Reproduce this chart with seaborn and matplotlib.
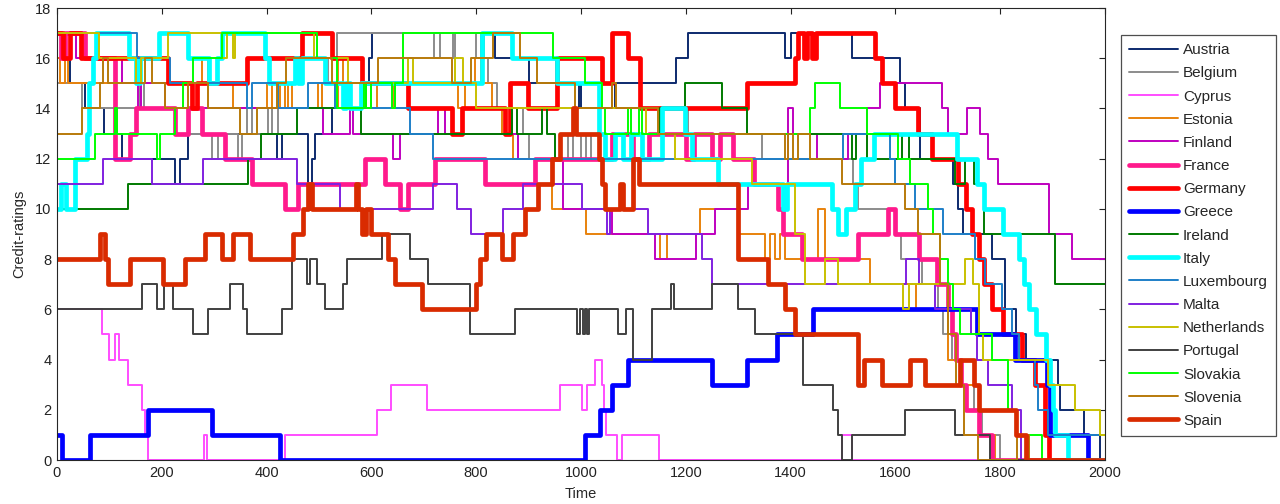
import matplotlib
matplotlib.use("Agg")
import matplotlib.pyplot as plt
import pandas as pd
import seaborn as sns

# ---- data: (time, rating) breakpoints of each step series ----
AUSTRIA = [(0,16),(25,15),(53,14),(90,13),(124,12),(225,11),(235,12),(250,13),(420,12),(430,13),(479,11),(486,12),(492,13),(525,14),(590,15),(595,16),(601,17),(836,16),(900,15),(996,14),(1000,15),(1060,14),(1065,15),(1181,16),(1204,17),(1390,16),(1400,17),(1517,16),(1609,15),(1618,14),(1647,12),(1710,11),(1720,10),(1729,9),(1784,8),(1809,6),(1830,5),(1850,4),(1910,3),(1915,2),(1960,1),(1990,0)]
BELGIUM = [(0,15),(48,14),(158,15),(167,14),(250,13),(296,12),(307,13),(345,12),(353,13),(362,14),(372,13),(403,14),(410,13),(422,14),(506,15),(517,16),(535,17),(720,16),(730,17),(755,16),(760,17),(800,16),(810,17),(815,16),(822,15),(840,14),(890,13),(900,12),(975,13),(985,12),(1000,13),(1010,12),(1020,13),(1200,14),(1205,13),(1345,12),(1519,11),(1529,10),(1600,9),(1610,8),(1650,7),(1681,6),(1690,5),(1708,4),(1725,3),(1750,2),(1765,1),(1800,0)]
CYPRUS = [(0,6),(85,5),(100,4),(110,5),(118,4),(136,3),(163,2),(168,1),(173,0),(281,1),(287,0),(435,1),(611,2),(638,3),(706,2),(960,3),(1002,2),(1012,3),(1027,4),(1040,3),(1044,2),(1048,1),(1068,0),(1078,1),(1148,0),(1498,1),(1517,0)]
ESTONIA = [(0,16),(5,15),(15,16),(22,15),(277,16),(288,15),(335,14),(400,15),(410,14),(425,15),(435,14),(440,15),(448,14),(498,15),(505,14),(537,16),(546,15),(600,14),(610,15),(641,14),(645,15),(765,14),(778,15),(798,16),(810,15),(830,14),(850,13),(870,12),(945,10),(1010,9),(1150,8),(1165,9),(1227,10),(1300,9),(1351,8),(1360,9),(1370,8),(1380,9),(1390,8),(1452,10),(1466,8),(1552,7),(1640,6),(1700,4),(1725,3),(1760,1),(1790,0)]
FINLAND = [(0,17),(37,16),(125,15),(155,14),(160,15),(206,14),(508,13),(559,14),(565,13),(641,12),(655,13),(727,14),(740,13),(880,12),(965,10),(1060,9),(1141,8),(1220,9),(1256,10),(1318,11),(1395,14),(1405,13),(1450,12),(1510,13),(1546,14),(1570,15),(1689,14),(1700,13),(1737,14),(1761,13),(1777,12),(1796,11),(1893,9),(1937,8)]
FRANCE = [(0,17),(8,16),(15,17),(53,16),(111,12),(139,13),(150,14),(225,13),(250,14),(276,13),(320,12),(372,11),(435,10),(460,11),(588,12),(626,11),(655,10),(670,11),(721,12),(817,11),(912,12),(1060,13),(1100,12),(1130,13),(1200,12),(1215,13),(1250,12),(1265,13),(1290,12),(1330,11),(1376,10),(1385,9),(1421,8),(1529,9),(1586,10),(1599,9),(1645,8),(1680,7),(1700,6),(1708,5),(1715,4),(1725,3),(1735,2),(1760,1),(1785,0)]
GERMANY = [(0,17),(12,16),(25,17),(45,16),(212,15),(258,14),(268,15),(362,16),(467,17),(525,16),(582,15),(670,14),(753,13),(773,14),(855,13),(865,15),(899,14),(954,16),(1040,15),(1059,17),(1090,16),(1112,14),(1317,15),(1408,16),(1415,17),(1425,16),(1432,17),(1440,16),(1448,17),(1561,16),(1575,15),(1599,14),(1643,13),(1670,12),(1720,11),(1735,10),(1746,9),(1760,8),(1770,7),(1784,6),(1805,5),(1841,4),(1866,3),(1885,1),(1893,0)]
GREECE = [(0,1),(10,0),(63,1),(174,2),(296,1),(426,0),(1008,1),(1036,2),(1059,3),(1090,4),(1250,3),(1317,4),(1374,5),(1443,6),(1756,5),(1828,4),(1889,3),(1895,1),(1968,0)]
IRELAND = [(0,10),(135,11),(365,12),(390,13),(458,14),(580,13),(868,14),(877,13),(925,14),(935,13),(950,12),(960,13),(1151,14),(1198,15),(1269,14),(1317,13),(1517,12),(1525,13),(1546,12),(1613,13),(1625,12),(1714,11),(1733,12),(1750,11),(1770,9),(1905,7)]
ITALY = [(0,10),(8,11),(18,10),(34,12),(58,13),(62,15),(68,16),(75,17),(138,16),(150,15),(158,16),(195,17),(250,16),(290,15),(305,16),(314,17),(397,16),(405,15),(454,16),(460,15),(468,16),(511,15),(545,14),(552,15),(560,14),(580,15),(812,17),(868,16),(954,15),(1035,13),(1045,12),(1065,13),(1080,12),(1095,13),(1116,12),(1155,14),(1198,13),(1211,12),(1262,11),(1385,10),(1393,11),(1479,10),(1491,9),(1505,10),(1523,11),(1535,12),(1560,13),(1718,12),(1756,11),(1770,10),(1805,9),(1835,8),(1845,7),(1855,6),(1868,5),(1888,4),(1895,3),(1900,2),(1905,1),(1930,0)]
LUXEMBOURG = [(0,17),(153,16),(216,15),(362,14),(372,15),(422,14),(479,15),(530,14),(674,13),(718,12),(1500,13),(1590,12),(1600,11),(1637,10),(1691,9),(1752,8),(1771,7),(1803,6),(1822,5),(1835,4),(1866,3),(1872,2),(1891,1)]
MALTA = [(0,11),(88,12),(181,11),(279,12),(458,11),(540,10),(718,11),(763,10),(790,9),(851,10),(889,11),(1002,10),(1050,9),(1055,10),(1128,9),(1231,8),(1250,7),(1620,8),(1645,7),(1675,6),(1745,5),(1756,4),(1777,3),(1822,2),(1840,0)]
NETHERLANDS = [(0,17),(80,16),(150,15),(160,16),(212,17),(314,16),(325,17),(335,16),(340,17),(490,16),(555,15),(670,16),(680,15),(760,16),(775,15),(800,14),(1125,13),(1180,12),(1326,11),(1408,9),(1427,7),(1466,8),(1491,7),(1615,6),(1625,7),(1733,8),(1748,7),(1760,5),(1767,4),(1891,3),(1943,2),(1990,1)]
PORTUGAL = [(0,6),(162,7),(191,6),(204,7),(221,6),(260,5),(288,6),(330,7),(355,6),(362,5),(430,6),(449,8),(478,7),(482,8),(496,7),(511,6),(546,7),(553,8),(620,9),(674,8),(708,7),(788,5),(874,6),(992,5),(998,6),(1003,5),(1008,6),(1012,5),(1016,6),(1070,5),(1085,6),(1099,4),(1135,6),(1172,7),(1178,6),(1250,7),(1300,6),(1332,5),(1424,3),(1481,2),(1490,1),(1498,0),(1517,1),(1618,2),(1714,1),(1780,0)]
SLOVAKIA = [(0,12),(73,13),(111,14),(115,13),(191,12),(196,13),(225,14),(241,15),(260,16),(314,17),(496,16),(534,14),(585,15),(590,14),(600,15),(640,14),(645,15),(660,17),(946,16),(1008,15),(1040,14),(1045,13),(1090,14),(1095,13),(1110,14),(1116,13),(1437,14),(1447,15),(1494,14),(1546,13),(1605,12),(1628,11),(1662,10),(1672,9),(1685,8),(1700,7),(1710,6),(1723,5),(1784,4),(1815,2),(1830,1),(1880,0)]
SLOVENIA = [(0,13),(48,14),(82,15),(88,16),(97,15),(168,16),(181,15),(206,14),(250,15),(288,14),(349,13),(381,14),(420,15),(437,16),(525,15),(613,16),(753,15),(790,16),(832,17),(884,16),(916,15),(989,14),(1060,15),(1066,14),(1147,13),(1389,12),(1395,13),(1405,12),(1415,13),(1437,12),(1498,11),(1618,10),(1643,9),(1685,7),(1700,5),(1715,3),(1730,1),(1758,0),(1832,1),(1855,0)]
SPAIN = [(0,8),(82,9),(92,8),(97,7),(139,8),(203,7),(244,8),(282,9),(314,8),(335,9),(368,8),(450,9),(470,10),(480,11),(487,10),(570,11),(575,10),(582,9),(590,10),(600,9),(632,8),(645,7),(696,6),(800,7),(808,8),(818,9),(850,8),(870,9),(893,10),(918,11),(945,12),(960,13),(985,14),(990,13),(1035,12),(1040,11),(1045,10),(1075,11),(1080,10),(1100,12),(1110,11),(1300,8),(1357,7),(1389,6),(1408,5),(1529,3),(1540,4),(1574,3),(1628,4),(1657,3),(1723,4),(1750,3),(1760,2),(1830,1),(1850,0)]

COUNTRIES = ["Austria","Belgium","Cyprus","Estonia","Finland","France","Germany","Greece",
             "Ireland","Italy","Luxembourg","Malta","Netherlands","Portugal","Slovakia","Slovenia","Spain"]
SERIES = [AUSTRIA, BELGIUM, CYPRUS, ESTONIA, FINLAND, FRANCE, GERMANY, GREECE,
          IRELAND, ITALY, LUXEMBOURG, MALTA, NETHERLANDS, PORTUGAL, SLOVAKIA, SLOVENIA, SPAIN]
COLORS = ["#0d2a6e","#8c8c8c","#ff4dff","#e8820c","#bf00bf","#ff1a8c","#ff0000","#0000ff",
          "#007a00","#00ffff","#1e7fc8","#8020e0","#c8c000","#404040","#00ff00","#b87a0a","#d92b00"]
THICK = {"France","Germany","Greece","Italy","Spain"}
T_END = 2000
X_TICKS = list(range(0, 2001, 200))
Y_TICKS = list(range(0, 19, 2))

sns.set_style("white")
plt.rcParams["font.family"] = ["Liberation Sans", "DejaVu Sans"]

fig = plt.figure(figsize=(12.8, 5.04), dpi=100)
ax = fig.add_axes([0.0445, 0.0873, 0.8188, 0.8968])

for name, pts, col in zip(COUNTRIES, SERIES, COLORS):
    t = [p[0] for p in pts] + [T_END]
    v = [p[1] for p in pts] + [pts[-1][1]]
    df = pd.DataFrame({"Time": t, "Rating": v})
    sns.lineplot(data=df, x="Time", y="Rating", ax=ax, color=col,
                 lw=3.4 if name in THICK else 1.4, drawstyle="steps-post",
                 estimator=None, errorbar=None, sort=True, label=name, legend=False)

ax.set_xlim(0, 2000)
ax.set_ylim(0, 18)
ax.set_xticks(X_TICKS)
ax.set_yticks(Y_TICKS)
ax.tick_params(direction="in", length=4, width=0.8, top=True, right=True,
               labelsize=10.5, colors="#222222", pad=4)
for s in ax.spines.values():
    s.set_color("#262626")
    s.set_linewidth(0.8)
ax.set_xlabel("Time", fontsize=10.5, labelpad=5)
ax.set_ylabel("Credit-ratings", fontsize=10.5, labelpad=6)

handles, labels = ax.get_legend_handles_labels()
leg = fig.legend(handles, labels, loc="upper left", bbox_to_anchor=(0.8758, 0.931),
                 borderaxespad=0, frameon=True, fancybox=False, edgecolor="#222222",
                 fontsize=11, handlelength=3.2, handletextpad=0.3, labelspacing=0.6,
                 borderpad=0.55)
leg.get_frame().set_linewidth(0.9)

fig.savefig("out.png", dpi=100, facecolor="white")
